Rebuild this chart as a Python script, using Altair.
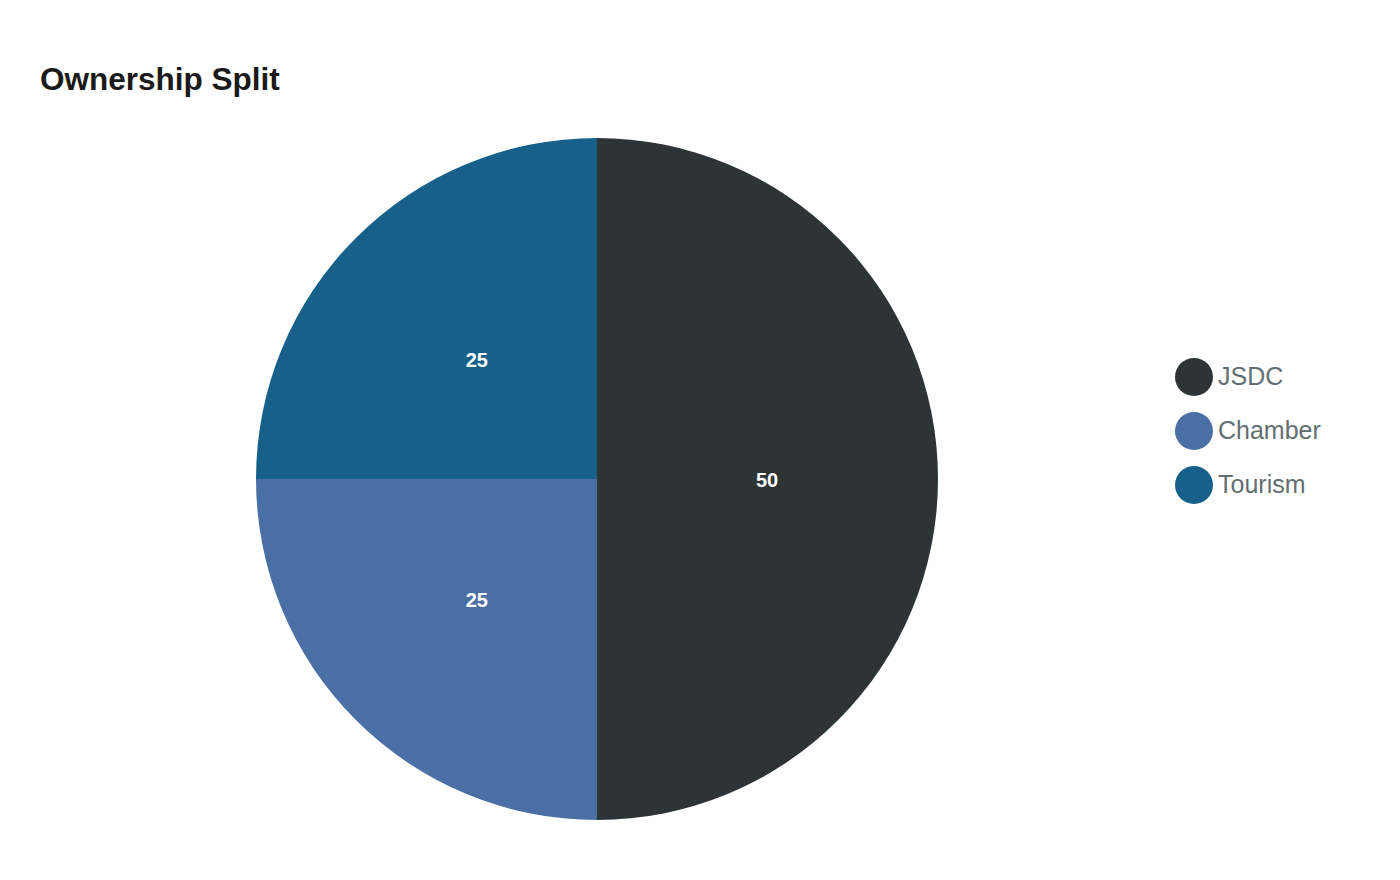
import altair as alt
import pandas as pd

categories = ["JSDC", "Chamber", "Tourism"]
values = [50, 25, 25]
colors = ["#2d3436", "#4a6fa5", "#17608a"]

df = pd.DataFrame({"owner": categories, "share": values, "idx": list(range(len(categories)))})

base = alt.Chart(df).encode(
    theta=alt.Theta("share:Q", stack=True),
    order=alt.Order("idx:O"),
    x=alt.value(557),
    y=alt.value(359),
)

arcs = base.mark_arc(radius=341, stroke=None).encode(
    color=alt.Color(
        "owner:N",
        scale=alt.Scale(domain=categories, range=colors),
        sort=categories,
        legend=alt.Legend(
            title=None,
            orient="none",
            legendX=1135,
            legendY=238,
            symbolType="circle",
            symbolSize=1444,
            symbolStrokeWidth=0,
            labelFontSize=25,
            labelColor="#636e72",
            labelFont="Liberation Sans",
            labelOffset=5,
            rowPadding=16,
            padding=0,
        ),
    )
)

labels = base.mark_text(
    radius=170, color="white", fontSize=20, fontWeight="bold", font="Liberation Sans", dy=2
).encode(text=alt.Text("share:Q"))

chart = (
    alt.layer(arcs, labels)
    .properties(
        width=1352,
        height=752,
        padding={"left": 32, "top": 112, "right": 0, "bottom": 0},
        autosize=alt.AutoSizeParams(type="none"),
        title=alt.TitleParams(
            "Ownership Split",
            anchor="start",
            fontSize=31.5,
            font="Liberation Sans",
            fontWeight="bold",
            color="#1a1a1a",
            offset=24,
        ),
    )
    .configure_view(stroke=None)
)

chart.save("out.html", embed_options={"renderer": "svg", "actions": False})
